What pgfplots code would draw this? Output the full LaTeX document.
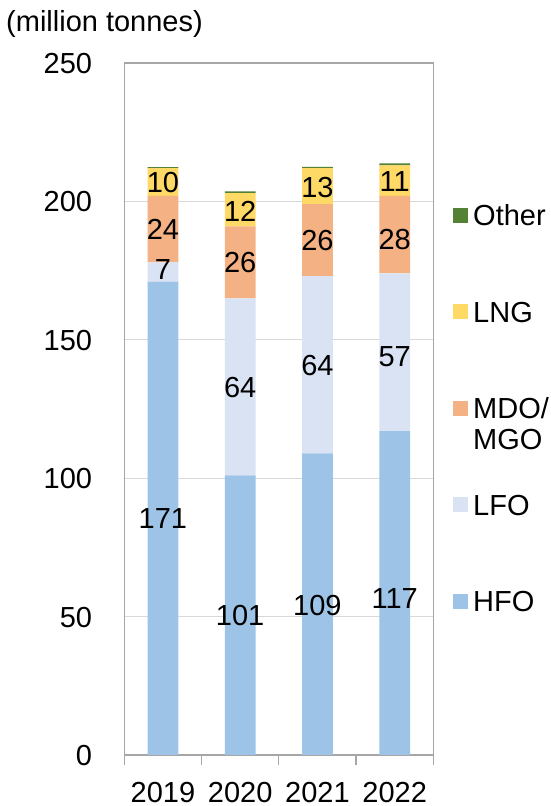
\documentclass[border=0pt]{standalone}
\usepackage{pgfplots}
\pgfplotsset{compat=1.18}
\usepackage{fontspec}
\setmainfont{Liberation Sans}
\definecolor{hfo}{HTML}{9DC3E6}
\definecolor{lfo}{HTML}{DAE3F3}
\definecolor{mdo}{HTML}{F4B183}
\definecolor{lng}{HTML}{FFD966}
\definecolor{oth}{HTML}{548235}
\definecolor{gridc}{HTML}{D9D9D9}
\definecolor{borderc}{HTML}{A6A6A6}
\newcommand\bigf{\fontsize{29bp}{34bp}\selectfont}
\pgfplotstableread{
x hfo lfo mdo lng oth
0 171 7 24 10 0.4
1 101 64 26 12 0.6
2 109 64 26 13 0.5
3 117 57 28 11 0.7
}\fuel
\pgfplotstableread{
x y label
0 85.5 171
1 50.5 101
2 54.3 109
3 56.8 117
0 175.5 7
1 133 64
2 141 64
3 144 57
0 190 24
1 178 26
2 186 26
3 186.5 28
0 207 10
1 196.5 12
2 205.3 13
3 207.3 11
}\labels
\begin{document}
\bigf
\begin{tikzpicture}
\useasboundingbox (0,0) rectangle (551bp,806bp);
\pgfplotsset{
  common/.style={
    at={(124.3bp,51bp)}, anchor=south west,
    scale only axis, width=309bp, height=692bp,
    xmin=-0.5, xmax=3.5, ymin=0, ymax=250,
    /pgf/number format/assume math mode=true,
  },
  legsq/.style={legend image code/.code={\path[##1, draw=none] (0bp,-7.5bp) rectangle (15bp,7.5bp);}},
}
\begin{axis}[common,
  ybar stacked, bar width=30.7bp,
  xtick={0,1,2,3}, xticklabels={2019,2020,2021,2022},
  minor xtick={-0.5,0.5,1.5,2.5,3.5},
  xtick pos=lower, ytick pos=left,
  ytick={0,50,...,250},
  ymajorgrids, grid style={gridc, line width=1.2bp},
  axis line style={borderc, line width=1.2bp},
  major tick length=0pt, minor tick length=10bp, tick align=outside,
  minor tick style={borderc, line width=1.2bp},
  tick label style={font=\bigf, text height=21bp, text depth=0pt, inner sep=0pt},
  xticklabel style={anchor=north, yshift=-26.5bp},
  yticklabel style={anchor=east, xshift=-32bp},
  legend style={draw=none, fill=none, at={(1.0638,0.7955)}, anchor=north west,
    inner sep=0pt, row sep=75.5bp, column sep=5bp, font=\bigf,
    cells={anchor=west},
    nodes={inner sep=0pt, text height=21bp, text depth=0pt}},
  reverse legend,
]
\addplot[fill=hfo, draw=none, legsq] table[x=x, y=hfo] {\fuel};
\addlegendentry{HFO}
\addplot[fill=lfo, draw=none, legsq] table[x=x, y=lfo] {\fuel};
\addlegendentry{LFO}
\addplot[fill=mdo, draw=none, legsq] table[x=x, y=mdo] {\fuel};
\addlegendentry{\smash{\begin{tabular}[t]{@{}l@{}}MDO/\\[-3bp]MGO\end{tabular}}}
\addplot[fill=lng, draw=none, legsq] table[x=x, y=lng] {\fuel};
\addlegendentry{LNG}
\addplot[fill=oth, draw=none, legsq] table[x=x, y=oth] {\fuel};
\addlegendentry{Other}
\end{axis}
\begin{axis}[common, hide axis, clip=false]
\addplot[only marks, mark=none,
  nodes near coords={\pgfplotspointmeta}, point meta=explicit symbolic,
  nodes near coords style={anchor=center, font=\bigf, text height=21bp, text depth=0pt, inner sep=0pt, black}]
  table[x=x, y=y, meta=label] {\labels};
\end{axis}
\node[anchor=base west, inner sep=0pt, font=\bigf] at (6bp,774bp) {(million tonnes)};
\end{tikzpicture}
\end{document}
